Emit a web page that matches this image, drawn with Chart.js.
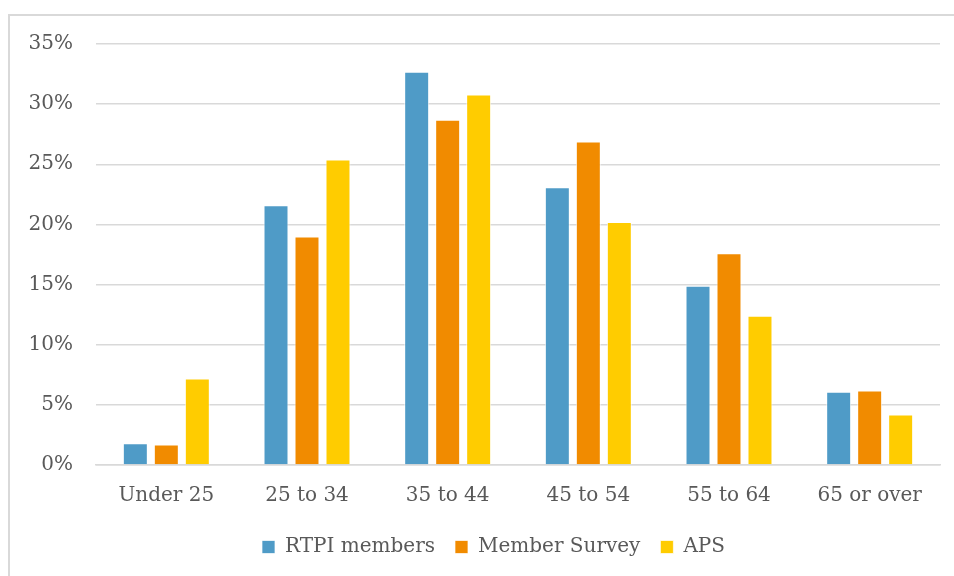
<!DOCTYPE html>
<html>
<head>
<meta charset="utf-8">
<script src="https://cdn.jsdelivr.net/npm/chart.js@4.4.1/dist/chart.umd.min.js"></script>
<style>
html,body{margin:0;padding:0;width:954px;height:576px;overflow:hidden;background:#fff;}
#frame{position:absolute;left:8px;top:14px;width:1000px;height:700px;border:2px solid #d9d9d9;box-sizing:border-box;}
#wrap{position:absolute;left:0;top:0;width:954px;height:576px;}
</style>
</head>
<body>
<div id="frame"></div>
<div id="wrap"><canvas id="c" width="954" height="576"></canvas></div>
<script>
const categories = ["Under 25", "25 to 34", "35 to 44", "45 to 54", "55 to 64", "65 or over"];
const rtpiMembers = [1.8, 21.6, 32.7, 23.1, 14.9, 6.1];
const memberSurvey = [1.7, 19.0, 28.7, 26.9, 17.6, 6.2];
const aps = [7.2, 25.4, 30.8, 20.2, 12.4, 4.2];
const yTicks = [0, 5, 10, 15, 20, 25, 30, 35];

const FONT = "'DejaVu Serif', serif";
const TXT = "#595959";
const GRID = "#d9d9d9";

function ds(label, data, color) {
  return {
    label, data,
    backgroundColor: color,
    borderColor: "rgba(255,255,255,0.7)",
    borderWidth: 1,
    borderSkipped: "bottom",
    categoryPercentage: 0.661,
    barPercentage: 0.806
  };
}

const legendShift = {
  id: "legendShift",
  afterLayout(chart) {
    const lg = chart.legend;
    if (lg) { lg.left += 47; }
  }
};

new Chart(document.getElementById("c"), {
  type: "bar",
  data: {
    labels: categories,
    datasets: [
      ds("RTPI members", rtpiMembers, "#4f9bc7"),
      ds("Member Survey", memberSurvey, "#f18b00"),
      ds("APS", aps, "#ffcc00")
    ]
  },
  plugins: [legendShift],
  options: {
    responsive: false,
    animation: false,
    devicePixelRatio: 1,
    layout: { padding: { top: 44, right: 14, left: 0, bottom: 9 } },
    plugins: {
      tooltip: { enabled: false },
      legend: {
        position: "bottom",
        labels: {
          boxWidth: 13,
          boxHeight: 13,
          padding: 20,
          color: TXT,
          font: { family: FONT, size: 20 }
        }
      }
    },
    scales: {
      x: {
        grid: { display: false, drawTicks: false },
        border: { display: true, color: GRID, width: 1.5 },
        ticks: { color: TXT, font: { family: FONT, size: 20 }, padding: 19, maxRotation: 0 },
        afterFit: s => { s.height = 52; }
      },
      y: {
        min: 0, max: 35,
        afterBuildTicks: s => { s.ticks = yTicks.map(v => ({ value: v })); },
        grid: { color: GRID, lineWidth: 1.5, drawTicks: false },
        border: { display: false },
        ticks: { color: TXT, font: { family: FONT, size: 20 }, padding: 23, callback: v => v + "%" },
        afterFit: s => { s.width = 96; }
      }
    }
  }
});
</script>
</body>
</html>
